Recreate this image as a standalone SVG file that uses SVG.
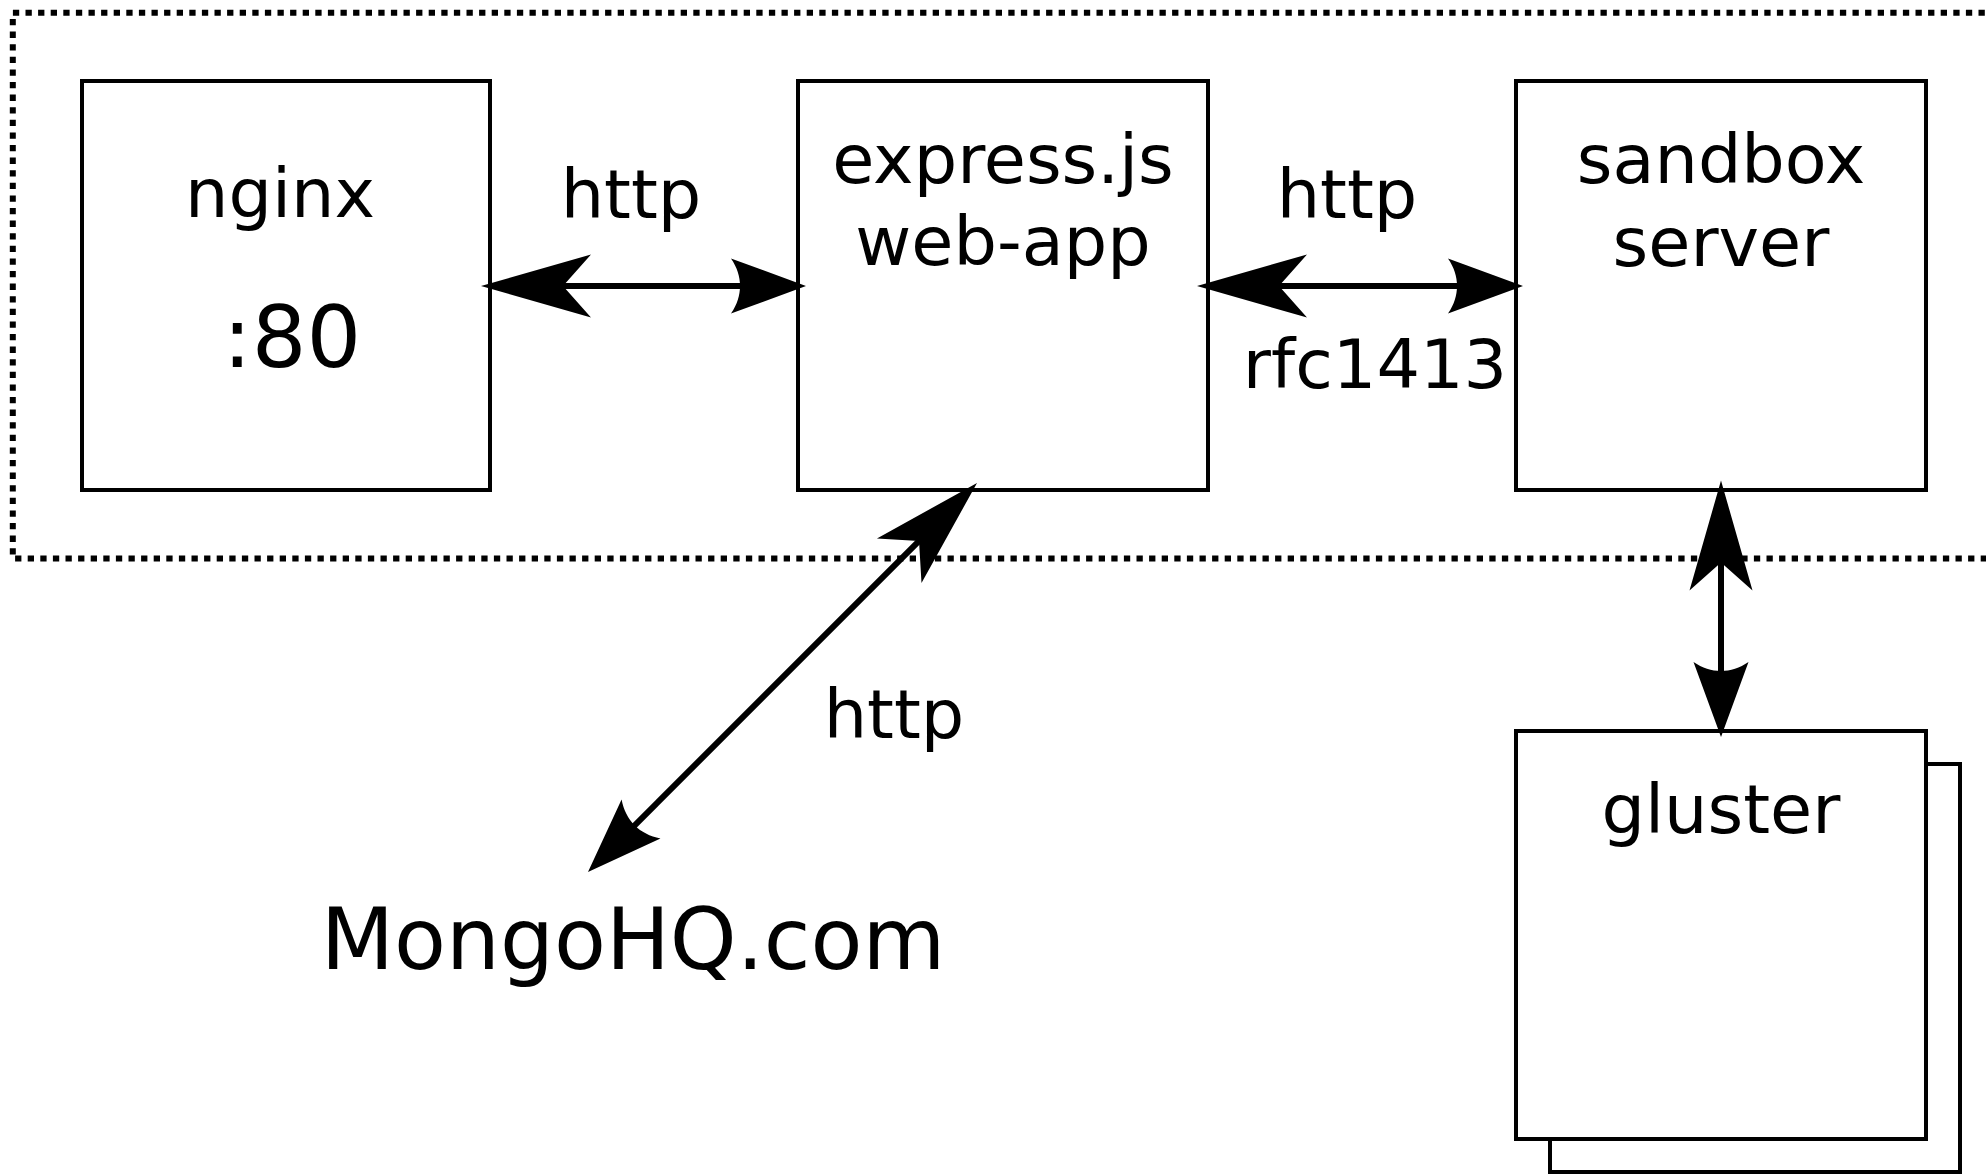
<svg xmlns="http://www.w3.org/2000/svg" width="1986" height="1174" viewBox="0 0 1986 1174">
<style>
  .box { fill: #ffffff; stroke: #000000; stroke-width: 4; }
  .lbl { font-family: "DejaVu Sans", "Liberation Sans", sans-serif; font-size: 68.5px; fill: #000000; text-anchor: middle; }
  .big { font-size: 86px; }
  .conn { stroke: #000000; stroke-width: 6; fill: none; marker-start: url(#headA); marker-end: url(#headB); }
  .zone { fill: none; stroke: #000000; stroke-width: 6; stroke-dasharray: 6.3 6.3; }
</style>
<defs>
  <marker id="headA" markerUnits="userSpaceOnUse" orient="auto" refX="0" refY="0" markerWidth="10" markerHeight="10" overflow="visible">
    <path d="M-30,0 L80,-31.5 L52,0 L80,31.5 Z" fill="#000000"/>
  </marker>
  <marker id="headB" markerUnits="userSpaceOnUse" orient="auto" refX="0" refY="0" markerWidth="10" markerHeight="10" overflow="visible">
    <path d="M30,0 L-45,-27.5 C-33,-10 -33,10 -45,27.5 Z" fill="#000000"/>
  </marker>
</defs>
<rect width="1986" height="1174" fill="#ffffff"/>
<path class="zone" d="M2010,12.8 H12.8 V558.5 H2010"/>

<g id="nginx">
  <rect class="box" x="82" y="81" width="408" height="409"/>
  <text class="lbl" x="280" y="217">nginx</text>
  <text class="lbl big" x="292" y="367">:80</text>
</g>
<g id="express">
  <rect class="box" x="798" y="81" width="410" height="409"/>
  <text class="lbl" x="1003" y="183">express.js</text>
  <text class="lbl" x="1003" y="265">web-app</text>
</g>
<g id="sandbox">
  <rect class="box" x="1516" y="81" width="410" height="409"/>
  <text class="lbl" x="1721" y="183">sandbox</text>
  <text class="lbl" x="1721" y="266">server</text>
</g>
<g id="gluster">
  <rect class="box" x="1550" y="764" width="410" height="408"/>
  <rect class="box" x="1516" y="731" width="410" height="408"/>
  <text class="lbl" x="1721" y="833">gluster</text>
</g>
<g id="mongohq">
  <text class="lbl" style="font-size:85px" x="633" y="969">MongoHQ.com</text>
</g>

<g id="connectors">
  <line class="conn" x1="511" y1="286" x2="776" y2="286"/>
  <line class="conn" x1="1227" y1="286" x2="1493" y2="286"/>
  <line class="conn" x1="1721" y1="510.5" x2="1721" y2="707"/>
  <line class="conn" x1="955.8" y1="504.2" x2="609.2" y2="850.8"/>
  <text class="lbl" x="631" y="218">http</text>
  <text class="lbl" x="1347" y="218">http</text>
  <text class="lbl" x="1375" y="388">rfc1413</text>
  <text class="lbl" x="894" y="738">http</text>
</g>
</svg>
